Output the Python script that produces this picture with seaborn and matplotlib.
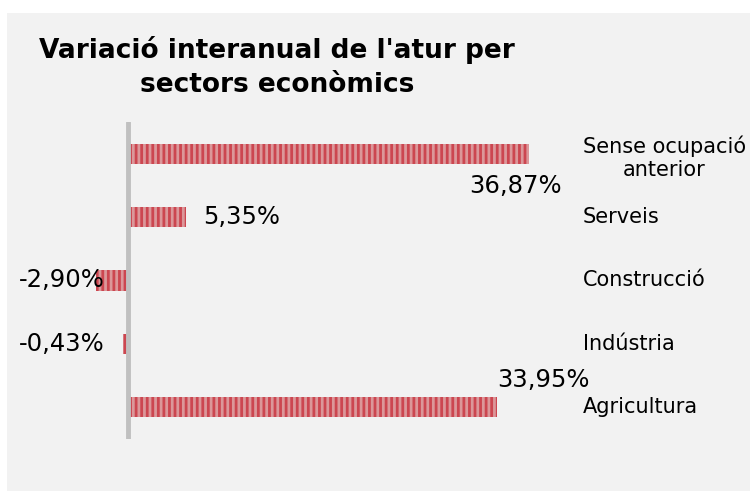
import matplotlib
matplotlib.use("Agg")
import matplotlib.pyplot as plt
import matplotlib.patches as mpatches
import pandas as pd
import seaborn as sns

sns.set_style("white")
plt.rcParams['font.family'] = ['DejaVu Sans']
plt.rcParams['hatch.linewidth'] = 2.0
plt.rcParams['text.color'] = 'black'

# data
sectors = ["Sense ocupació\nanterior", "Serveis", "Construcció", "Indústria", "Agricultura"]
variation = [36.87, 5.35, -2.90, -0.43, 33.95]
value_labels = ["36,87%", "5,35%", "-2,90%", "-0,43%", "33,95%"]

df = pd.DataFrame({"Sector": sectors, "Variacio": variation})

# where each value label sits relative to the bar end (pixels)
label_offsets = [(-13, -32), (55, 0), (-35, 0), (-62, 0), (46, 27)]

bg = "#f2f2f2"
fig = plt.figure(figsize=(7.5, 4.91), dpi=100, facecolor="white")
panel = mpatches.Rectangle((7 / 750, 0), 1, 1 - 13 / 491, transform=fig.transFigure,
                           facecolor=bg, edgecolor="none", zorder=-10)
fig.add_artist(panel)

px_per_unit = 10.876
zero_px = 128
left_px, right_px = 20, 740
ax = fig.add_axes([left_px / 750, 1 - 439 / 491, (right_px - left_px) / 750, 317 / 491])
ax.set_facecolor("none")
ax.set_zorder(5)

sns.barplot(data=df, x="Variacio", y="Sector", orient="h", order=sectors,
            width=0.316, color="#e68c90", ax=ax, zorder=2)
for bar in ax.patches:
    bar.set_hatch("|||")
    bar.set_edgecolor("#cc4650")
    bar.set_linewidth(0)

ax.set_xlim((left_px - zero_px) / px_per_unit, (right_px - zero_px) / px_per_unit)
ax.set_ylim(4.5, -0.5)
ax.axvline(0, color="#c0c0c0", lw=3.5, zorder=3)

for s in ax.spines.values():
    s.set_visible(False)
ax.set_xticks([])
ax.set_yticks([])
ax.set_xlabel("")
ax.set_ylabel("")

label_x = (583 - zero_px) / px_per_unit
for i, name in enumerate(sectors):
    yy = i + 0.06 if "\n" in name else i
    ax.text(label_x, yy, name, ha="left", va="center", multialignment="center",
            fontsize=15, color="black", linespacing=1.2)

for i, (val, txt) in enumerate(zip(variation, value_labels)):
    ax.annotate(txt, xy=(val, i), xytext=label_offsets[i], textcoords="offset pixels",
                ha="center", va="center", fontsize=17.5, color="black")

fig.text(277 / 750, 1 - 67 / 491, "Variació interanual de l'atur per\nsectors econòmics",
         ha="center", va="center", multialignment="center", fontsize=19,
         fontweight="bold", linespacing=1.45, color="black")

fig.savefig("out.png", dpi=100, facecolor=fig.get_facecolor())
